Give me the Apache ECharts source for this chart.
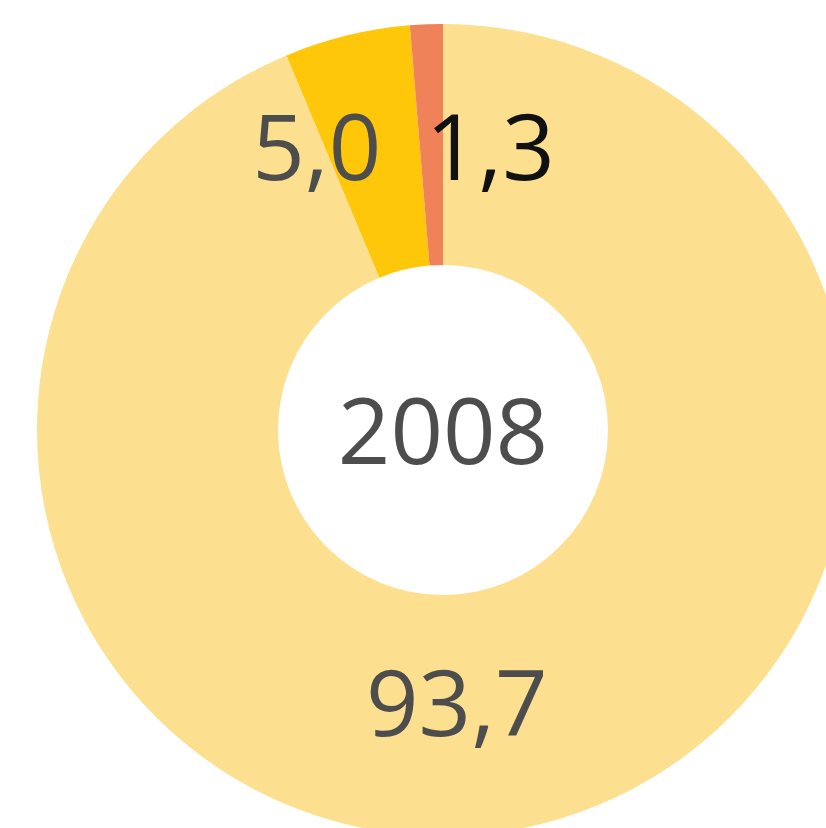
<!DOCTYPE html>
<html>
<head>
<meta charset="utf-8">
<script src="https://cdn.jsdelivr.net/npm/echarts@6/dist/echarts.min.js"></script>
<style>
  html, body { margin: 0; padding: 0; background: #fff; }
  #pie { width: 826px; height: 828px; }
</style>
</head>
<body>
<div id="pie"></div>
<script>
const year = '2008'
const names = ['A', 'B', 'C']
const values = [93.7, 5.0, 1.3]
const labels = ['93,7', '5,0', '1,3']
const colors = ['#FCE08F', '#FEC70A', '#F0825A']
const labelColors = ['#4d4d4d', '#4d4d4d', '#111111']
// nudges so labels sit where the original put them
const labelOffsets = [[-43, -3], [-58, 4], [59, 12]]

let pieChart = echarts.init(document.getElementById('pie'))

let seriesData = values.map((v, i) => ({
  name: names[i],
  value: v,
  itemStyle: { color: colors[i] },
  label: {
    formatter: labels[i],
    color: labelColors[i],
    offset: labelOffsets[i]
  }
}))

let pieOption = {
  animation: false,
  graphic: [{
    type: 'text',
    x: 443,
    y: 438,
    style: {
      text: year,
      align: 'center',
      verticalAlign: 'middle',
      fill: '#4d4d4d',
      font: '92px "Open Sans"'
    }
  }],
  series: [{
    type: 'pie',
    center: [443, 430],
    radius: [165, 406],
    startAngle: 90,
    clockwise: true,
    avoidLabelOverlap: false,
    emphasis: { disabled: true },
    label: {
      show: true,
      position: 'inside',
      fontFamily: 'Open Sans',
      fontSize: 92
    },
    labelLine: { show: false },
    data: seriesData
  }]
}
pieChart.setOption(pieOption)
</script>
</body>
</html>
